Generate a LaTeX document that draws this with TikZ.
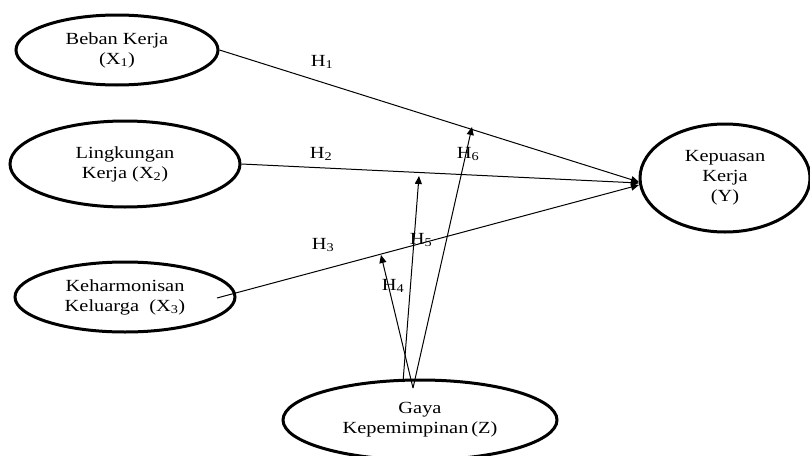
\documentclass[tikz,border=0pt]{standalone}
\usepackage{fontspec}
\setmainfont{Liberation Serif}[FakeStretch=1.2]
\usetikzlibrary{shapes.geometric,arrows.meta}
\begin{document}
\begin{tikzpicture}[x=1pt,y=-1pt,
  var/.style={draw,ellipse,line width=3pt,inner sep=0pt,align=center,
    font=\fontsize{17}{20}\selectfont},
  path/.style={line width=1pt,-{Triangle[length=8pt,width=7pt]}},
  hlab/.style={font=\fontsize{17}{20}\selectfont,inner sep=0pt}]
\useasboundingbox (0,0) rectangle (810,455);
\node[var,minimum width=202pt,minimum height=70pt] (x1) at (117,50) {Beban Kerja\\(X\textsubscript{1})};
\node[var,minimum width=230pt,minimum height=86pt] (x2) at (125,164) {Lingkungan\\Kerja (X\textsubscript{2})};
\node[var,minimum width=220pt,minimum height=70pt] (x3) at (125,297) {Keharmonisan\\Keluarga\ \ (X\textsubscript{3})};
\node[var,minimum width=170pt,minimum height=108pt] (y) at (725,178) {Kepuasan\\Kerja\\(Y)};
\node[var,minimum width=274pt,minimum height=80pt] (z) at (420,420) {Gaya\\Kepemimpinan\,(Z)};
\coordinate (yin1) at (639,182);
\coordinate (yin2) at (639,183);
\coordinate (yin3) at (639,185);
\coordinate (x3out) at (217,298);
\coordinate (z0) at (413,388);
\coordinate (z5) at (403,382);
\coordinate (m4) at (381,255);
\coordinate (m5) at (419,176);
\coordinate (m6) at (472,127);
\draw[path] (x1.east) -- (yin1);
\draw[path] (x2.east) -- (yin2);
\draw[path] (x3out) -- (yin3);
\draw[path] (z0) -- (m4);
\draw[path] (z5) -- (m5);
\draw[path] (z0) -- (m6);
\node[hlab] (h1) at (322,62) {H\textsubscript{1}};
\node[hlab] (h2) at (321,154) {H\textsubscript{2}};
\node[hlab] (h3) at (323,245) {H\textsubscript{3}};
\node[hlab] (h4) at (393,286) {H\textsubscript{4}};
\node[hlab] (h5) at (421,240) {H\textsubscript{5}};
\node[hlab] (h6) at (468,154) {H\textsubscript{6}};
\end{tikzpicture}
\end{document}
